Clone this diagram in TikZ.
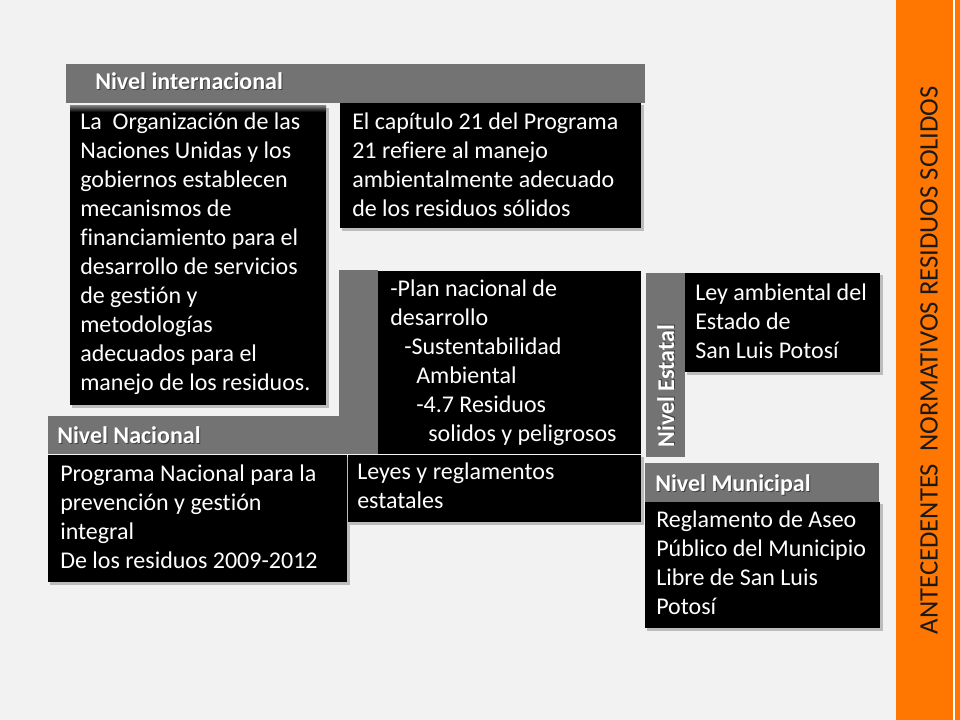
\documentclass[tikz,border=0pt]{standalone}
\usepackage{fontspec}
\setmainfont{Carlito}[Ligatures=NoCommon]
\definecolor{bg}{HTML}{F2F2F2}
\definecolor{barg}{HTML}{737373}
\definecolor{orng}{HTML}{FF7600}
\begin{document}
\begin{tikzpicture}[x=0.75pt,y=-0.75pt,
  boxfill/.style={fill=black},
  barfill/.style={fill=barg},
  shad/.style={fill=black,opacity=0.22},
  txt/.style={anchor=north west,inner sep=0pt,align=left,text=white,font=\fontsize{18}{21.75}\selectfont},
  hdr/.style={anchor=base west,inner sep=0pt,text=white,font=\fontsize{18}{21.75}\selectfont\bfseries},
  hdrsh/.style={anchor=base west,inner sep=0pt,text=black!75,font=\fontsize{18}{21.75}\selectfont\bfseries}
]
% background and bounding box
\fill[bg] (0,0) rectangle (960,720);
\useasboundingbox (0,0) rectangle (960,720);
% orange side band
\fill[orng] (896,0) rectangle (960,720);
\fill[white] (953,0) rectangle (955,720);
\node[rotate=90,inner sep=0pt,text=black!90,font=\fontsize{20}{24}\selectfont] (title) at (929,360) {ANTECEDENTES\ \ NORMATIVOS RESIDUOS SOLIDOS};

% Nivel internacional
\fill[barfill] (66,64) rectangle (645,103);
\node[hdrsh] (hintsh) at (96,91) {Nivel internacional};
\node[hdr] (hint) at (95,90) {Nivel internacional};

% box 1
\fill[shad] (72,108) rectangle (329,408);
\fill[boxfill] (70,106) rectangle (326,405);
\shade[top color=black!55,bottom color=black] (70,106) rectangle (326,112);
\node[txt] (b1) at (80,107.7) {\rule{0pt}{16pt}La\ \ Organización de las\\Naciones Unidas y los\\gobiernos establecen\\mecanismos de\\financiamiento para el\\desarrollo de servicios\\de gestión y\\metodologías\\adecuados para el\\manejo de los residuos.};

% box 2
\fill[shad] (342,105) rectangle (644,231);
\fill[boxfill] (340,103) rectangle (641,228);
\node[txt] (b2) at (352,107.7) {\rule{0pt}{16pt}El capítulo 21 del Programa\\21 refiere al manejo\\ambientalmente adecuado\\de los residuos sólidos};

% Nivel Nacional L-shape
\fill[barfill] (339,270) rectangle (378,416);
\fill[barfill] (48,416) rectangle (378,454);
\node[hdrsh] (hnacsh) at (58,444) {Nivel Nacional};
\node[hdr] (hnac) at (57,443) {Nivel Nacional};

% box 3
\fill[boxfill] (378,271) rectangle (641,454);
\node[txt] (b3) at (390,274.7) {\rule{0pt}{16pt}-Plan nacional de\\desarrollo\\\hspace*{10.5pt}-Sustentabilidad\\\hspace*{19.5pt}Ambiental\\\hspace*{19.5pt}-4.7 Residuos\\\hspace*{28.5pt}solidos y peligrosos};

% box 4
\fill[shad] (50,457) rectangle (350,585);
\fill[boxfill] (48,455) rectangle (347,582);
\node[txt] (b4) at (60,459.7) {\rule{0pt}{16pt}Programa Nacional para la\\prevención y gestión\\integral\\De los residuos 2009-2012};

% box 5
\fill[shad] (350,457) rectangle (644,525);
\fill[boxfill] (348,455) rectangle (641,522);
\node[txt] (b5) at (357,457.7) {\rule{0pt}{16pt}Leyes y reglamentos\\estatales};

% Nivel Estatal
\fill[barfill] (646,273) rectangle (685,457);
\node[rotate=90,anchor=base,inner sep=0pt,text=black!75,font=\fontsize{18}{21.75}\selectfont\bfseries] (hestsh) at (675,385) {Nivel Estatal};
\node[rotate=90,anchor=base,inner sep=0pt,text=white,font=\fontsize{18}{21.75}\selectfont\bfseries] (hest) at (674,386) {Nivel Estatal};
\fill[shad] (687,275) rectangle (883,375);
\fill[boxfill] (685,273) rectangle (880,372);
\node[txt] (b6) at (695,278.7) {\rule{0pt}{16pt}Ley ambiental del\\Estado de\\San Luis Potosí};

% Nivel Municipal
\fill[barfill] (645,463) rectangle (879,502);
\node[hdrsh] (hmunsh) at (656,492) {Nivel Municipal};
\node[hdr] (hmun) at (655,491) {Nivel Municipal};
\fill[shad] (647,504) rectangle (883,631);
\fill[boxfill] (645,502) rectangle (880,628);
\node[txt] (b7) at (656,505.7) {\rule{0pt}{16pt}Reglamento de Aseo\\Público del Municipio\\Libre de San Luis\\Potosí};
\end{tikzpicture}
\end{document}
